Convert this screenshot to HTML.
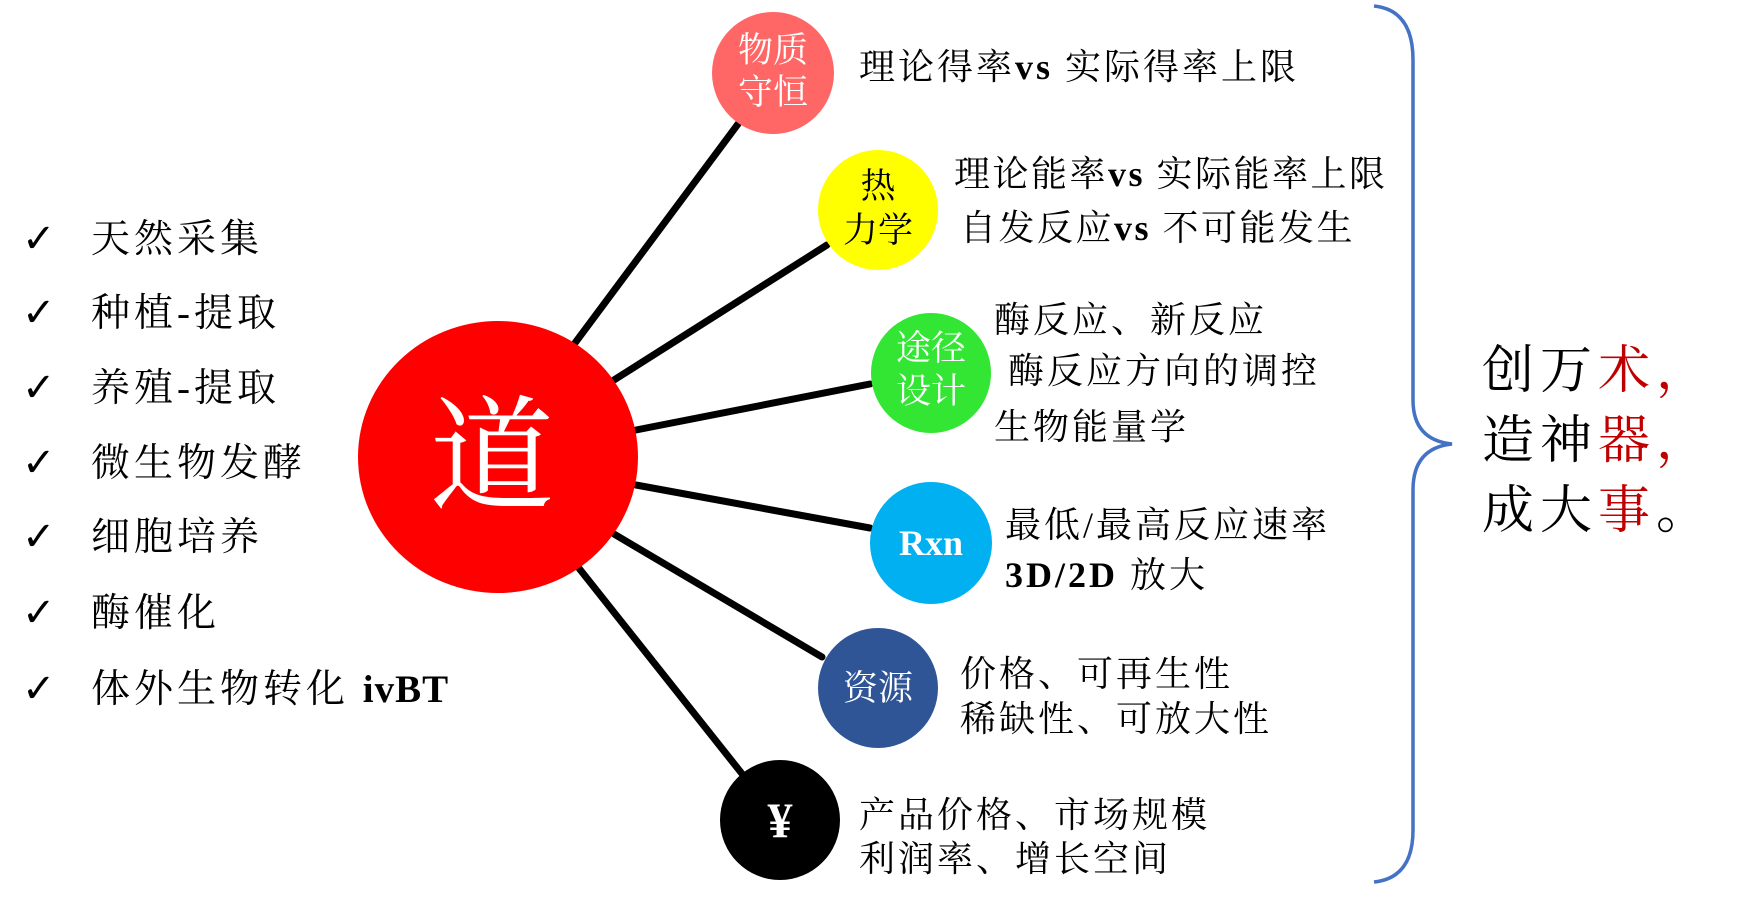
<!DOCTYPE html>
<html><head><meta charset="utf-8"><style>
html,body{margin:0;padding:0;background:#fff;}
svg{display:block;}
text{font-family:"Liberation Serif","Noto Serif CJK SC",serif;}
.ck{font-family:"DejaVu Sans",sans-serif;}
</style></head><body>
<svg width="1752" height="909" viewBox="0 0 1752 909" xmlns="http://www.w3.org/2000/svg">
<g transform="translate(-4,0)">
<g stroke="#000" stroke-width="7" stroke-linecap="round">
<line x1="579" y1="343" x2="742" y2="124"/>
<line x1="618" y1="380" x2="831" y2="245"/>
<line x1="640" y1="430" x2="874" y2="384"/>
<line x1="640" y1="485" x2="874" y2="528"/>
<line x1="618" y1="534" x2="826" y2="657"/>
<line x1="582" y1="567" x2="747" y2="775"/>
</g>
<ellipse cx="502" cy="457" rx="140" ry="136" fill="#ff0000"/>
<text x="496" y="500" font-size="125" fill="#fff" text-anchor="middle">道</text>

<circle cx="777" cy="73" r="61" fill="#ff6666"/>
<text x="777" y="62" font-size="35" fill="#fff" text-anchor="middle">物质</text>
<text x="777" y="104" font-size="35" fill="#fff" text-anchor="middle">守恒</text>

<circle cx="882" cy="210" r="60" fill="#ffff00"/>
<text x="882" y="198" font-size="35" fill="#000" text-anchor="middle">热</text>
<text x="882" y="242" font-size="35" fill="#000" text-anchor="middle">力学</text>

<circle cx="935" cy="373" r="60" fill="#33e633"/>
<text x="935" y="360" font-size="35" fill="#fff" text-anchor="middle">途径</text>
<text x="935" y="403" font-size="35" fill="#fff" text-anchor="middle">设计</text>

<circle cx="935" cy="543" r="61" fill="#00b0f0"/>
<text x="935" y="555" font-size="36" fill="#fff" font-weight="bold" text-anchor="middle">Rxn</text>

<circle cx="882" cy="688" r="60" fill="#2f5597"/>
<text x="882" y="700" font-size="35" fill="#fff" text-anchor="middle">资源</text>

<circle cx="784" cy="820" r="60" fill="#000"/>
<text x="784" y="837" font-size="50" fill="#fff" font-weight="bold" text-anchor="middle">¥</text>

<g font-size="36" fill="#000" letter-spacing="3">
<text x="863" y="79">理论得率<tspan font-weight="bold">vs</tspan>  实际得率上限</text>
<text x="958" y="186" letter-spacing="2.5">理论能率<tspan font-weight="bold">vs</tspan> 实际能率上限</text>
<text x="964" y="240" letter-spacing="2.5">自发反应<tspan font-weight="bold">vs</tspan> 不可能发生</text>
<text x="998" y="332">酶反应、新反应</text>
<text x="1012" y="383">酶反应方向的调控</text>
<text x="998" y="439">生物能量学</text>
<text x="1009" y="537">最低/最高反应速率</text>
<text x="1009" y="587"><tspan font-weight="bold">3D/2D</tspan> 放大</text>
<text x="964" y="686">价格、可再生性</text>
<text x="964" y="731">稀缺性、可放大性</text>
<text x="863" y="827">产品价格、市场规模</text>
<text x="863" y="871">利润率、增长空间</text>
</g>

<g font-size="39" fill="#000" letter-spacing="4">
<text class="ck" x="26" y="252" font-size="40">✓</text><text x="95" y="252">天然采集</text>
<text class="ck" x="26" y="326" font-size="40">✓</text><text x="95" y="326">种植-提取</text>
<text class="ck" x="26" y="401" font-size="40">✓</text><text x="95" y="401">养殖-提取</text>
<text class="ck" x="26" y="476" font-size="40">✓</text><text x="95" y="476">微生物发酵</text>
<text class="ck" x="26" y="550" font-size="40">✓</text><text x="95" y="550">细胞培养</text>
<text class="ck" x="26" y="626" font-size="40">✓</text><text x="95" y="626">酶催化</text>
<text class="ck" x="26" y="702" font-size="40">✓</text><text x="95" y="702">体外生物转化 <tspan font-weight="bold" letter-spacing="1">ivBT</tspan></text>
</g>
</g>

<path d="M1374,6 Q1413,10 1413,60 L1413,400 Q1413,440 1452,444 Q1413,448 1413,490 L1413,830 Q1413,878 1374,882" fill="none" stroke="#4472c4" stroke-width="3.5"/>

<g font-size="52" fill="#000" letter-spacing="6">
<text x="1482" y="388">创万<tspan fill="#c00000">术，</tspan></text>
<text x="1482" y="458">造神<tspan fill="#c00000">器，</tspan></text>
<text x="1482" y="528">成大<tspan fill="#c00000">事</tspan>。</text>
</g>
</svg>
</body></html>
